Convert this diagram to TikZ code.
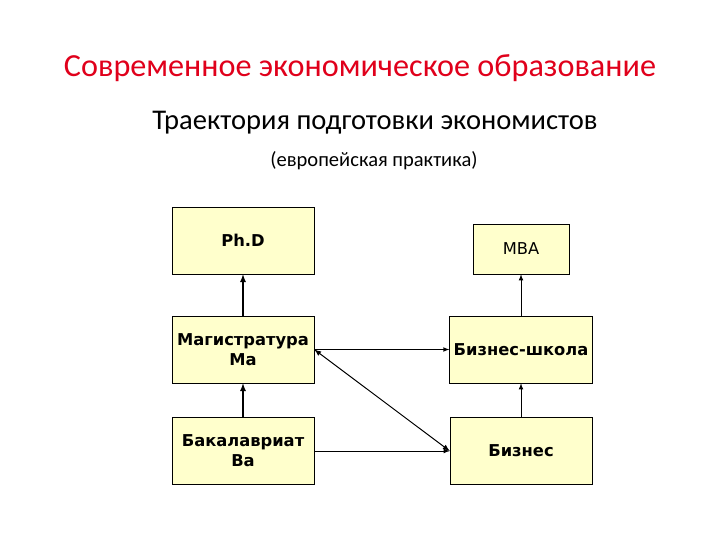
\documentclass[tikz,border=0pt]{standalone}
\usepackage{fontspec}
\setmainfont{Carlito}
\newfontfamily\boxfont{DejaVu Sans}
\usetikzlibrary{positioning,arrows}
\definecolor{boxfill}{HTML}{FFFFCC}
\definecolor{titlered}{HTML}{E0001B}
\tikzset{>=latex,
bx/.style={rectangle,draw,fill=boxfill,align=center,font=\boxfont\bfseries\fontsize{11.6}{14}\selectfont,
  minimum width=3.55cm,minimum height=1.675cm,inner sep=1mm},
thick arr/.style={->,line width=0.9pt},
thin arr/.style={->,line width=0.5pt},
}
\begin{document}
\begin{tikzpicture}[x=0.025cm,y=-0.025cm]
	\useasboundingbox (0,0) rectangle (720,540);
	\node[text=titlered,font=\fontsize{22.9}{27}\selectfont] (title) at (360,68) {Современное экономическое образование};
	\node[font=\fontsize{20.3}{24}\selectfont] (sub) at (375,123) {Траектория подготовки экономистов};
	\node[font=\fontsize{14.6}{17}\selectfont] (note) at (374,161) {(европейская практика)};

	\node[bx] (phd) at (243,240.5) {Ph.D};
	\node[bx] (ma) at (243,349.5) {Магистратура\\Ма};
	\node[bx] (ba) at (243,451) {Бакалавриат\\Ва};
	\node[bx,minimum width=2.4cm,minimum height=1.25cm,font=\boxfont\fontsize{11.6}{14}\selectfont] (mba) at (521,249) {МВА};
	\node[bx] (bs) at (521,349.5) {Бизнес-школа};
	\node[bx] (biz) at (521,451) {Бизнес};

	\path
	(ma) edge[thick arr] (phd)
	(ba) edge[thick arr] (ma)
	(biz) edge[thin arr] (bs)
	(bs) edge[thin arr] (mba)
	(ma) edge[thin arr] (bs)
	(ba) edge[thin arr] (biz)
	(ma.east) edge[<->,line width=0.7pt] (biz.west)
	;
\end{tikzpicture}
\end{document}
